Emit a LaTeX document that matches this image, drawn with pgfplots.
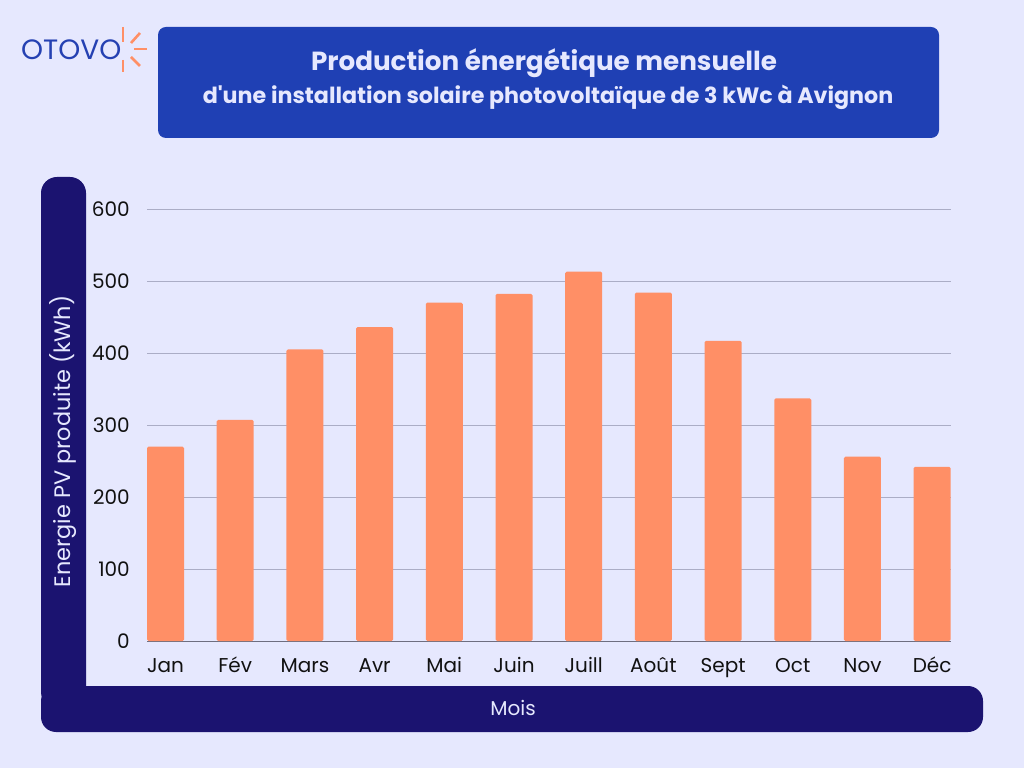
\documentclass[border=0pt]{standalone}
\usepackage{fontspec}
\setmainfont{Poppins}
\newfontfamily\pop{Poppins}
\usepackage{pgfplots}
\pgfplotsset{compat=1.18}
\definecolor{bg}{HTML}{E6E8FE}
\definecolor{titlebox}{HTML}{1F40B4}
\definecolor{navy}{HTML}{1B1370}
\definecolor{barc}{HTML}{FF8F66}
\definecolor{gridc}{HTML}{ABADC6}
\definecolor{axisl}{HTML}{6E6E80}
\definecolor{logoc}{HTML}{2541B2}
\definecolor{txt}{HTML}{111111}
\begin{document}
\begin{tikzpicture}
\begin{scope}[x=1pt,y=1pt]
\useasboundingbox (0,0) rectangle (1024,768);
\fill[bg] (0,0) rectangle (1024,768);
% logo
\node[anchor=base west, inner sep=0pt, text=logoc, font=\fontsize{28}{28}\selectfont] at (21,708) {OTOVO};
\begin{scope}[draw=barc, line width=2.6pt]
\draw (123,741)--(123,726);
\draw (123,708)--(123,696);
\draw (134,719)--(147,719);
\draw (131,725)--(140,735);
\draw (131,711)--(140,702);
\end{scope}
% title box
\fill[titlebox, rounded corners=8pt] (158,630) rectangle (939,741);
\node[anchor=base, inner sep=0pt, text=bg, font=\pop\bfseries\fontsize{26.2}{26}\selectfont] at (544,697.3) {Production énergétique mensuelle};
\node[anchor=base, inner sep=0pt, text=bg, font=\pop\bfseries\fontsize{22.2}{22}\selectfont] at (548,664.7) {d'une installation solaire photovoltaïque de 3 kWc à Avignon};
% L frame
\fill[navy, rounded corners=16pt] (41,60) rectangle (86,591);
\fill[navy, rounded corners=15pt] (41,36) rectangle (983,82);
\node[anchor=base, inner sep=0pt, rotate=90, text=bg, font=\fontsize{22.4}{22}\selectfont] at (70,326.5) {Energie PV produite (kWh)};
\node[anchor=base, inner sep=0pt, text=bg, font=\fontsize{20}{20}\selectfont] at (513,53) {Mois};
\end{scope}
\begin{axis}[
  at={(147pt,127pt)}, anchor=south west,
  scale only axis, width=803.7pt, height=432pt,
  xmin=-0.266, xmax=11.266, ymin=0, ymax=600,
  ybar, bar width=37pt, bar shift=0pt,
  axis line style={draw=none}, tick style={draw=none},
  ytick={100,200,300,400,500,600},
  ymajorgrids, grid style={color=gridc, line width=0.8pt},
  extra y ticks={0}, extra y tick labels={0},
  extra y tick style={grid style={color=axisl, line width=1pt}},
  xtick={0,...,11},
  xticklabels={Jan,Fév,Mars,Avr,Mai,Juin,Juill,Août,Sept,Oct,Nov,Déc},
  ticklabel style={font=\fontsize{20}{20}\selectfont, text=txt, inner sep=0pt},
  xticklabel style={anchor=base, yshift=-27pt},
  yticklabel style={anchor=base east, xshift=-17pt, yshift=-7pt},
  /pgf/number format/assume math mode=true,
  clip=false,
]
\addplot[fill=barc, draw=none, rounded corners=1.5pt] coordinates {
 (0,270) (1,307) (2,405) (3,436) (4,470) (5,482) (6,513) (7,484) (8,417) (9,337) (10,256) (11,242)};
\end{axis}
\end{tikzpicture}
\end{document}
